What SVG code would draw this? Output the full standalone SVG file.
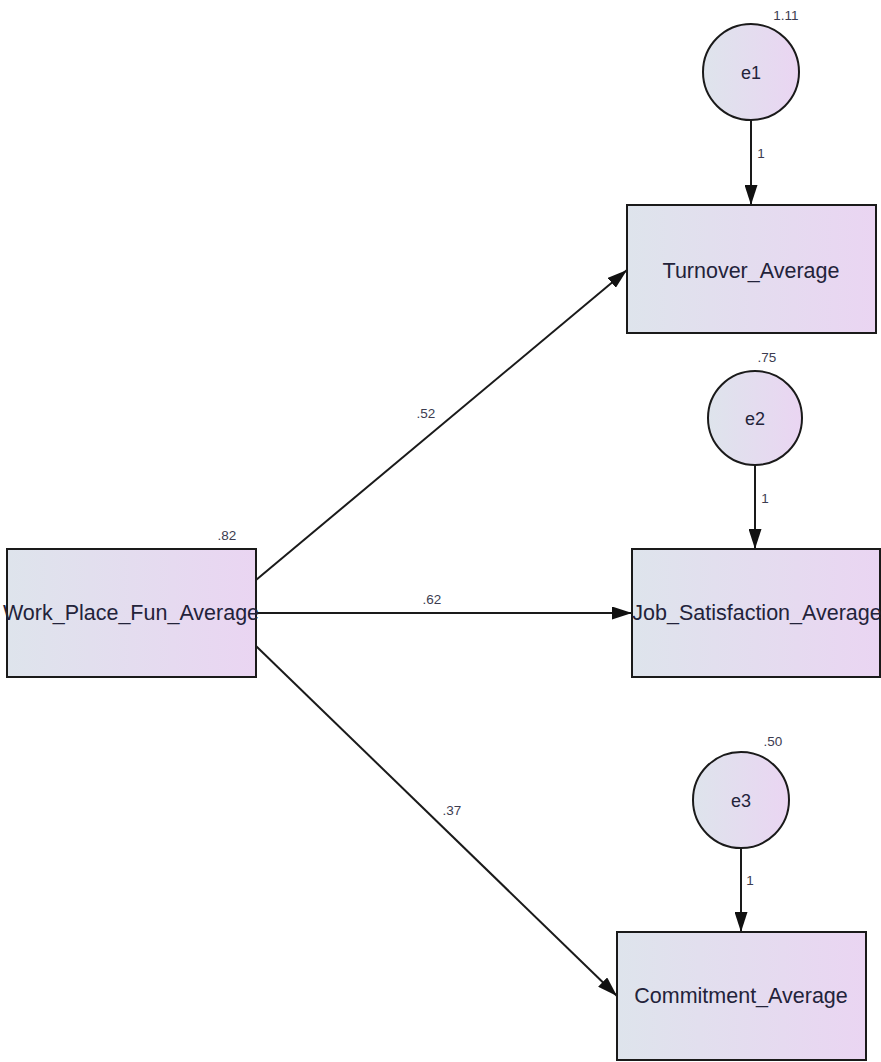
<svg xmlns="http://www.w3.org/2000/svg" width="881" height="1062" viewBox="0 0 881 1062">
<style>
.box{stroke:#1a1a1a;stroke-width:2;fill:url(#g)}
.circ{stroke:#1a1a1a;stroke-width:2;fill:url(#g)}
.lbl{font-family:"Liberation Sans",Arial,sans-serif;font-size:21.5px;fill:#23233a;text-anchor:middle}
.el{font-family:"Liberation Sans",Arial,sans-serif;font-size:18px;fill:#23233a;text-anchor:middle}
.num{font-family:"Liberation Sans",Arial,sans-serif;font-size:13.5px;fill:#3c3c50;text-anchor:middle}
.edge{stroke:#1a1a1a;stroke-width:2;fill:none;marker-end:url(#ah)}
</style>
<defs>
<linearGradient id="g" x1="0" y1="0" x2="1" y2="0">
<stop offset="0" stop-color="#dee4ec"/>
<stop offset="1" stop-color="#ead5f2"/>
</linearGradient>
<marker id="ah" viewBox="0 0 20 13" refX="20" refY="6.5" markerWidth="20" markerHeight="13" markerUnits="userSpaceOnUse" orient="auto">
<path d="M0,0 L20,6.5 L0,13 Z" fill="#111"/>
</marker>
</defs>
<rect width="881" height="1062" fill="#ffffff"/>
<g id="connectors">
<line class="edge" x1="751" y1="120" x2="751" y2="205"/>
<line class="edge" x1="755" y1="465" x2="755" y2="549"/>
<line class="edge" x1="741" y1="848" x2="741" y2="932"/>
<line class="edge" x1="256" y1="580" x2="627" y2="270"/>
<line class="edge" x1="256" y1="613" x2="632" y2="613"/>
<line class="edge" x1="256" y1="646" x2="617" y2="996"/>
<text class="num" x="761" y="158">1</text>
<text class="num" x="765" y="503">1</text>
<text class="num" x="750" y="885">1</text>
<text class="num" x="426" y="418">.52</text>
<text class="num" x="432" y="604">.62</text>
<text class="num" x="452" y="815">.37</text>
</g>
<g id="e1">
<circle class="circ" cx="751" cy="72" r="48"/>
<text class="el" x="751" y="79">e1</text>
<text class="num" x="786" y="20">1.11</text>
</g>
<g id="e2">
<circle class="circ" cx="755" cy="418" r="47"/>
<text class="el" x="755" y="425">e2</text>
<text class="num" x="767" y="362">.75</text>
</g>
<g id="e3">
<circle class="circ" cx="741" cy="800" r="48"/>
<text class="el" x="741" y="807">e3</text>
<text class="num" x="773" y="746">.50</text>
</g>
<g id="turnover">
<rect class="box" x="627" y="205" width="249" height="128"/>
<text class="lbl" x="751" y="278">Turnover_Average</text>
</g>
<g id="job">
<rect class="box" x="632" y="549" width="248" height="128"/>
<text class="lbl" x="757" y="620">Job_Satisfaction_Average</text>
</g>
<g id="workplace">
<rect class="box" x="7" y="549" width="249" height="128"/>
<text class="lbl" x="131" y="620">Work_Place_Fun_Average</text>
<text class="num" x="227" y="540">.82</text>
</g>
<g id="commitment">
<rect class="box" x="617" y="932" width="249" height="128"/>
<text class="lbl" x="741" y="1003">Commitment_Average</text>
</g>
</svg>
